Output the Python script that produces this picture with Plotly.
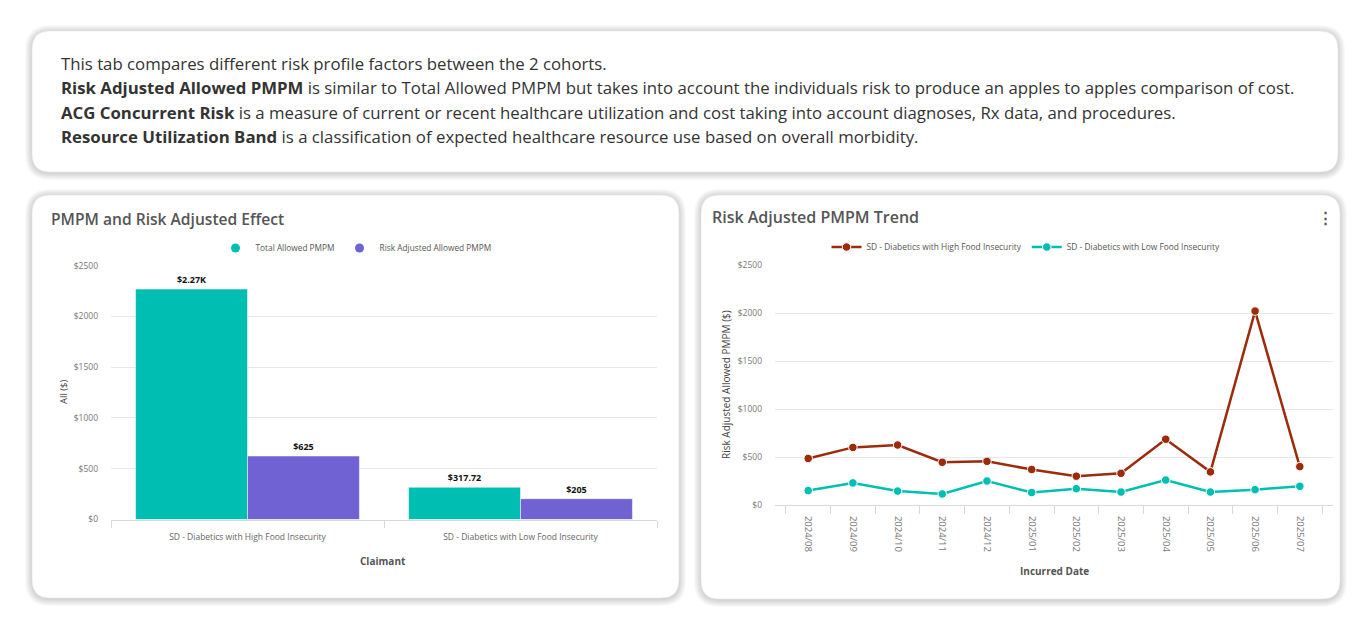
import plotly.graph_objects as go

W, H = 1371, 630

# ---------------- data ----------------
claimants = ["SD - Diabetics with High Food Insecurity", "SD - Diabetics with Low Food Insecurity"]
total_allowed = [2270, 317.72]
risk_adjusted = [625, 205]
total_labels = ["$2.27K", "$317.72"]
risk_labels = ["$625", "$205"]

months = ["2024/08", "2024/09", "2024/10", "2024/11", "2024/12", "2025/01",
          "2025/02", "2025/03", "2025/04", "2025/05", "2025/06", "2025/07"]
high_fi = [485, 600, 625, 445, 455, 370, 300, 330, 685, 345, 2020, 400]
low_fi = [150, 230, 145, 115, 250, 130, 170, 135, 260, 135, 160, 195]

y_ticks = [0, 500, 1000, 1500, 2000, 2500]
y_ticktext = ["$0", "$500", "$1000", "$1500", "$2000", "$2500"]

intro_lines = [
    "This tab compares different risk profile factors between the 2 cohorts.",
    "<b>Risk Adjusted Allowed PMPM</b> is similar to Total Allowed PMPM but takes into account the individuals risk to produce an apples to apples comparison of cost.",
    "<b>ACG Concurrent Risk</b> is a measure of current or recent healthcare utilization and cost taking into account diagnoses, Rx data, and procedures.",
    "<b>Resource Utilization Band</b> is a classification of expected healthcare resource use based on overall morbidity.",
]

TEAL = "#00BFB2"
PURPLE = "#7062D2"
RED = "#9B2B0A"
FONT = "Open Sans"


def px(x):
    return x / W


def py(y):
    return 1 - y / H


def rrect(x0, y0, x1, y1, r):
    pts = [("M", [(x0 + r, y0)]), ("L", [(x1 - r, y0)]), ("Q", [(x1, y0), (x1, y0 + r)]),
           ("L", [(x1, y1 - r)]), ("Q", [(x1, y1), (x1 - r, y1)]), ("L", [(x0 + r, y1)]),
           ("Q", [(x0, y1), (x0, y1 - r)]), ("L", [(x0, y0 + r)]), ("Q", [(x0, y0), (x0 + r, y0)])]
    s = ""
    for cmd, cs in pts:
        s += cmd + " " + " ".join(f"{px(a):.5f},{py(b):.5f}" for a, b in cs) + " "
    return s + "Z"


fig = go.Figure()

# ---------------- left chart: bars ----------------
fig.add_trace(go.Bar(x=claimants, y=total_allowed, name="Total Allowed PMPM", marker=dict(color=TEAL, line=dict(width=0.5, color="white")),
                     text=total_labels, textposition="outside", cliponaxis=False,
                     textfont=dict(size=9, color="#111", family=FONT, weight=700),
                     xaxis="x", yaxis="y", showlegend=False))
fig.add_trace(go.Bar(x=claimants, y=risk_adjusted, name="Risk Adjusted Allowed PMPM", marker=dict(color=PURPLE, line=dict(width=0.5, color="white")),
                     text=risk_labels, textposition="outside", cliponaxis=False,
                     textfont=dict(size=9, color="#111", family=FONT, weight=700),
                     xaxis="x", yaxis="y", showlegend=False))
# legend entries with circle symbols
for nm, col in [("Total Allowed PMPM", TEAL), ("Risk Adjusted Allowed PMPM", PURPLE)]:
    fig.add_trace(go.Scatter(x=[None], y=[None], mode="markers", name=nm,
                             marker=dict(color=col, size=9, symbol="circle"),
                             xaxis="x", yaxis="y", legend="legend"))

# ---------------- right chart: lines ----------------
fig.add_trace(go.Scatter(x=months, y=high_fi, mode="lines+markers", name="SD - Diabetics with High Food Insecurity",
                         line=dict(color=RED, width=2.5), marker=dict(size=8.5, color=RED, line=dict(width=1, color="white")),
                         xaxis="x2", yaxis="y2", legend="legend2", cliponaxis=False))
fig.add_trace(go.Scatter(x=months, y=low_fi, mode="lines+markers", name="SD - Diabetics with Low Food Insecurity",
                         line=dict(color=TEAL, width=2.5), marker=dict(size=8.5, color=TEAL, line=dict(width=1, color="white")),
                         xaxis="x2", yaxis="y2", legend="legend2", cliponaxis=False))

# ---------------- cards ----------------
shapes = []
cards = [(32, 31, 1338, 172), (32, 195, 679, 598), (701, 195, 1340, 599)]
for (x0, y0, x1, y1) in cards:
    for i in range(7, 0, -1):
        shapes.append(dict(type="path", path=rrect(x0 - i, y0 - i + 1, x1 + i, y1 + i + 1, 18 + i),
                           xref="paper", yref="paper", fillcolor="rgba(0,0,0,0.024)", line=dict(width=0), layer="below"))
    shapes.append(dict(type="path", path=rrect(x0, y0, x1, y1, 18), xref="paper", yref="paper",
                       fillcolor="white", line=dict(width=0.6, color="#e6e6e6"), layer="below"))

annotations = []
for i, line in enumerate(intro_lines):
    annotations.append(dict(x=px(59), y=py(64 + 24 * i), xref="paper", yref="paper", text=line,
                            showarrow=False, xanchor="left", yanchor="middle",
                            font=dict(family=FONT, size=16.8, color="#333")))
annotations += [
    dict(x=px(49), y=py(219), xref="paper", yref="paper", text="PMPM and Risk Adjusted Effect", showarrow=False,
         xanchor="left", yanchor="middle", font=dict(family=FONT, size=15.6, color="#555", weight=600)),
    dict(x=px(710), y=py(217), xref="paper", yref="paper", text="Risk Adjusted PMPM Trend", showarrow=False,
         xanchor="left", yanchor="middle", font=dict(family=FONT, size=16, color="#555", weight=600)),
    dict(x=px(1325), y=py(217), xref="paper", yref="paper", text="⋮", showarrow=False,
         xanchor="center", yanchor="middle", font=dict(family=FONT, size=15, color="#555", weight=700)),
    dict(x=px(63), y=py(392), xref="paper", yref="paper", text="All ($)", showarrow=False, textangle=-90,
         xanchor="center", yanchor="middle", font=dict(family=FONT, size=9.5, color="#444")),
    dict(x=px(383), y=py(561), xref="paper", yref="paper", text="<b>Claimant</b>", showarrow=False,
         xanchor="center", yanchor="middle", font=dict(family=FONT, size=10, color="#555")),
    dict(x=px(726), y=py(385), xref="paper", yref="paper", text="Risk Adjusted Allowed PMPM ($)", showarrow=False,
         textangle=-90, xanchor="center", yanchor="middle", font=dict(family=FONT, size=10, color="#444")),
    dict(x=px(1054), y=py(571), xref="paper", yref="paper", text="<b>Incurred Date</b>", showarrow=False,
         xanchor="center", yanchor="middle", font=dict(family=FONT, size=10, color="#555")),
]

axis_common = dict(showgrid=False, showline=True, linecolor="#d9d9d9", linewidth=1,
                   ticks="outside", tickcolor="#d9d9d9", tickson="boundaries",
                   fixedrange=True, automargin=False)
yaxis_common = dict(range=[0, 2500], tickvals=y_ticks, ticktext=y_ticktext, showgrid=True,
                    gridcolor="#e8e8e8", gridwidth=1, zeroline=False, showline=False, automargin=False,
                    tickfont=dict(family=FONT, size=8.5, color="#777"), ticks="", ticklabelstandoff=12)

fig.update_layout(
    width=W, height=H, margin=dict(l=0, r=0, t=0, b=0, pad=0, autoexpand=False),
    paper_bgcolor="white", plot_bgcolor="rgba(0,0,0,0)",
    font=dict(family=FONT),
    barmode="group", bargap=0.18, bargroupgap=0,
    xaxis=dict(domain=[px(111), px(657)], anchor="y", ticklen=7, ticklabelstandoff=9,
               tickfont=dict(family=FONT, size=8.5, color="#666"), **axis_common),
    yaxis=dict(domain=[py(519.5), py(265.7)], anchor="x", **yaxis_common),
    xaxis2=dict(domain=[px(775), px(1333)], anchor="y2", tickangle=90, ticklen=8, ticklabelstandoff=8,
                tickfont=dict(family=FONT, size=9.5, color="#777"), **axis_common),
    yaxis2=dict(domain=[py(505), py(265)], anchor="x2", **yaxis_common),
    legend=dict(orientation="h", x=px(356), y=py(248), xanchor="center", yanchor="middle",
                font=dict(family=FONT, size=8.3, color="#555"), bgcolor="rgba(0,0,0,0)", itemwidth=30),
    legend2=dict(orientation="h", x=px(1026), y=py(247), xanchor="center", yanchor="middle",
                 font=dict(family=FONT, size=8.4, color="#555"), bgcolor="rgba(0,0,0,0)", itemwidth=30),
    shapes=shapes, annotations=annotations,
)

fig.write_html("out.html", config={"displayModeBar": False},
               post_script="document.body.style.margin='0';document.body.style.overflow='hidden';")
